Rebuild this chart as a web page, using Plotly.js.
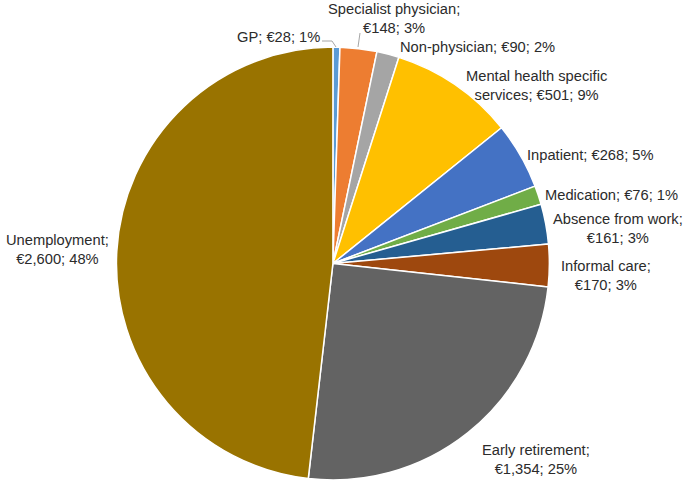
<!DOCTYPE html>
<html>
<head>
<meta charset="utf-8">
<script src="https://cdn.plot.ly/plotly-3.0.1.min.js"></script>
<style>html,body{margin:0;padding:0;background:#fff;}#chart{width:685px;height:484px;}</style>
</head>
<body>
<div id="chart"></div>
<script>
// ---- data ----
const categories = ["GP", "Specialist physician", "Non-physician", "Mental health specific services", "Inpatient", "Medication", "Absence from work", "Informal care", "Early retirement", "Unemployment"];
const costs = [28, 148, 90, 501, 268, 76, 161, 170, 1354, 2600];
const colors = ["#5B9BD5", "#ED7D31", "#A5A5A5", "#FFC000", "#4472C4", "#70AD47", "#255E91", "#9E480E", "#636363", "#997300"];

// ---- label layout (text wrapping + pixel positions of label centres) ----
const labelCategoryText = ["GP", "Specialist physician", "Non-physician", "Mental health specific<br>services", "Inpatient", "Medication", "Absence from work", "Informal care", "Early retirement", "Unemployment"];
const breakAfterCategory = [false, true, false, false, false, false, true, true, true, true];
const labelPx = [[278, 37], [394, 18.5], [477, 47], [536, 85], [590, 155], [611.5, 195], [617.5, 229], [606, 275], [536, 459], [57, 249]];
const leaderLinesPx = [
  [[322, 41], [332, 41]], [[332, 41], [336, 47]],
  [[360, 33], [358, 47]]
];

const W = 685, H = 484;
const total = costs.reduce((a, b) => a + b, 0);
const fmt = v => v.toLocaleString("en-US");

const annotations = categories.map((c, i) => {
  const pct = Math.round(costs[i] / total * 100);
  const sep = breakAfterCategory[i] ? ";<br>" : "; ";
  return {
    xref: "paper", yref: "paper",
    x: labelPx[i][0] / W, y: 1 - labelPx[i][1] / H,
    xanchor: "center", yanchor: "middle", align: "center",
    showarrow: false,
    text: labelCategoryText[i] + sep + "€" + fmt(costs[i]) + "; " + pct + "%",
    font: {family: "Liberation Sans, Arial, sans-serif", size: 14.7, color: "#2b2b2b"}
  };
});

const shapes = leaderLinesPx.map(seg => ({
  type: "line", xref: "paper", yref: "paper",
  x0: seg[0][0] / W, y0: 1 - seg[0][1] / H,
  x1: seg[1][0] / W, y1: 1 - seg[1][1] / H,
  line: {color: "#A6A6A6", width: 1}
}));

const trace = {
  type: "pie",
  labels: categories,
  values: costs,
  textinfo: "none",
  sort: false,
  direction: "clockwise",
  rotation: 0,
  marker: {colors: colors, line: {color: "#ffffff", width: 1.5}},
  domain: {x: [0.17, 0.802], y: [4 / H, 437 / H]},
  hoverinfo: "label+value+percent",
  showlegend: false
};

Plotly.newPlot("chart", [trace], {
  width: W, height: H,
  margin: {l: 0, r: 0, t: 0, b: 0},
  paper_bgcolor: "#fff",
  showlegend: false,
  annotations: annotations,
  shapes: shapes
}, {displayModeBar: false, staticPlot: true});
</script>
</body>
</html>
